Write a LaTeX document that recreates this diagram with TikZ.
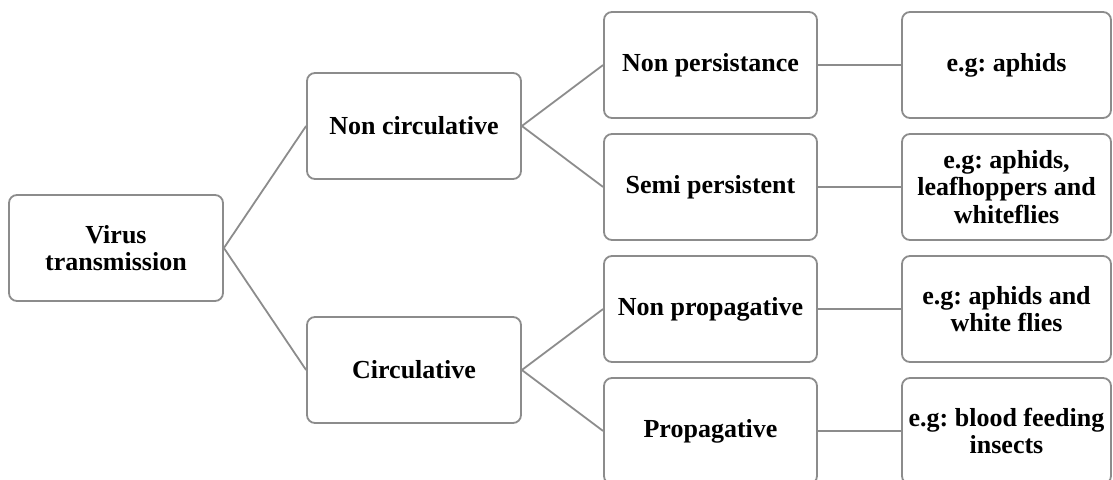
\documentclass[tikz,border=0pt]{standalone}
\usepackage{fontspec}
\setmainfont{Liberation Serif}
\frenchspacing
\definecolor{boxgray}{HTML}{8C8C8C}
\tikzset{
  box/.style={draw=boxgray, line width=1.8pt, rounded corners=8pt, fill=white,
    rectangle, align=center, inner sep=2pt,
    font=\bfseries\fontsize{26}{27.3}\selectfont, text=black},
  c1/.style={box, minimum width=214pt, minimum height=106pt},
  c4/.style={box, minimum width=209pt, minimum height=106pt},
  link/.style={draw=boxgray, line width=1.8pt}
}
\begin{document}
\begin{tikzpicture}[x=1pt,y=-1pt]
\useasboundingbox (0,0) rectangle (1113,479);
\clip (0,0) rectangle (1113,479);
\node[c1] (vt) at (116,248) {Virus\\transmission};
\node[c1] (nc) at (414,126) {Non circulative};
\node[c1] (ci) at (414,370) {Circulative};
\node[c1, minimum width=213pt] (np) at (710.5,65) {Non persistance};
\node[c1, minimum width=213pt] (sp) at (710.5,187) {Semi persistent};
\node[c1, minimum width=213pt] (npg) at (710.5,309) {Non propagative};
\node[c1, minimum width=213pt] (pg) at (710.5,431) {Propagative};
\node[c4] (e1) at (1006.5,65) {e.g: aphids};
\node[c4] (e2) at (1006.5,187) {e.g: aphids,\\leafhoppers and\\whiteflies};
\node[c4] (e3) at (1006.5,309) {e.g: aphids and\\white flies};
\node[c4] (e4) at (1006.5,431) {e.g: blood feeding\\insects};
\draw[link] (vt.east) -- (nc.west);
\draw[link] (vt.east) -- (ci.west);
\draw[link] (nc.east) -- (np.west);
\draw[link] (nc.east) -- (sp.west);
\draw[link] (ci.east) -- (npg.west);
\draw[link] (ci.east) -- (pg.west);
\draw[link] (np.east) -- (e1.west);
\draw[link] (sp.east) -- (e2.west);
\draw[link] (npg.east) -- (e3.west);
\draw[link] (pg.east) -- (e4.west);
\end{tikzpicture}
\end{document}
